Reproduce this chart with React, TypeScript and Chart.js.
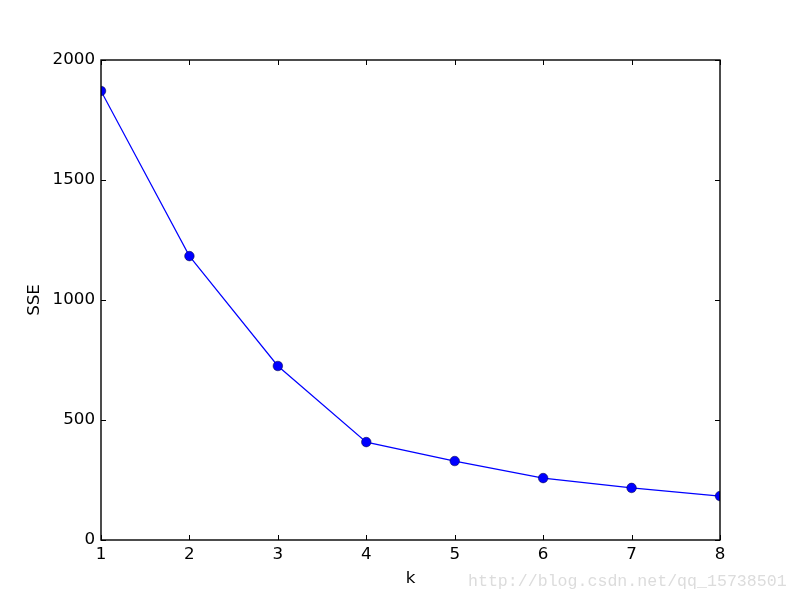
import React, { useEffect, useRef } from "react";
import { Chart, registerables } from "chart.js";

Chart.register(...registerables);

const kValues = [1, 2, 3, 4, 5, 6, 7, 8];
const sseValues = [1871, 1183, 725, 408, 329, 258, 217, 183];
const xTicks = [1, 2, 3, 4, 5, 6, 7, 8];
const yTicks = [0, 500, 1000, 1500, 2000];
const xLabel = "k";
const yLabel = "SSE";
const watermark = "http://blog.csdn.net/qq_15738501";

const FONT = "'DejaVu Sans', sans-serif";
const FS = 16.7;

const framePlugin = {
  id: "frameTicks",
  afterDatasetsDraw(chart: any) {
    const { ctx, chartArea } = chart;
    const { left, right, top, bottom } = chartArea;
    const xs = chart.scales.x;
    const ys = chart.scales.y;
    ctx.save();
    ctx.strokeStyle = "#000";
    ctx.lineWidth = 1;
    const tl = 5;
    ctx.beginPath();
    xTicks.forEach((t) => {
      const px = Math.round(xs.getPixelForValue(t)) + 0.5;
      ctx.moveTo(px, bottom);
      ctx.lineTo(px, bottom - tl);
      ctx.moveTo(px, top);
      ctx.lineTo(px, top + tl);
    });
    yTicks.forEach((t) => {
      const py = Math.round(ys.getPixelForValue(t)) + 0.5;
      ctx.moveTo(left, py);
      ctx.lineTo(left + tl, py);
      ctx.moveTo(right, py);
      ctx.lineTo(right - tl, py);
    });
    ctx.stroke();
    ctx.lineWidth = 1.4;
    ctx.strokeRect(left, top, right - left, bottom - top);
    ctx.restore();
  },
  afterDraw(chart: any) {
    const { ctx } = chart;
    ctx.save();
    ctx.fillStyle = "#dcdcdc";
    ctx.font = "16.6px 'Liberation Mono', monospace";
    ctx.textBaseline = "alphabetic";
    ctx.textAlign = "left";
    ctx.fillText(watermark, 468, 586);
    ctx.restore();
  },
};

export default function App() {
  const ref = useRef<HTMLCanvasElement | null>(null);
  useEffect(() => {
    if (!ref.current) return;
    const chart = new Chart(ref.current, {
      type: "line",
      data: {
        datasets: [
          {
            data: kValues.map((k, i) => ({ x: k, y: sseValues[i] })),
            borderColor: "#0000ff",
            backgroundColor: "#0000ff",
            borderWidth: 1.2,
            pointRadius: 4.8,
            pointBorderColor: "#000033",
            pointBorderWidth: 0.5,
            pointBackgroundColor: "#0000ff",
            tension: 0,
            clip: 0,
          } as any,
        ],
      },
      options: {
        animation: false,
        responsive: false,
        maintainAspectRatio: false,
        layout: { padding: { left: 0, top: 60, right: 80, bottom: 0 } },
        plugins: {
          legend: { display: false },
          tooltip: { enabled: false },
        },
        scales: {
          x: {
            type: "linear",
            min: 1,
            max: 8,
            afterBuildTicks: (s: any) => {
              s.ticks = xTicks.map((v) => ({ value: v }));
            },
            afterFit: (s: any) => {
              s.height = 60;
            },
            grid: { display: false, drawTicks: false },
            border: { display: false },
            ticks: {
              color: "#000",
              font: { family: FONT, size: FS },
              padding: 5,
              maxRotation: 0,
              autoSkip: false,
              callback: (v: any) => String(v),
            },
            title: {
              display: true,
              text: xLabel,
              color: "#000",
              font: { family: FONT, size: FS },
              padding: { top: 0, bottom: 11 },
            },
          },
          y: {
            type: "linear",
            min: 0,
            max: 2000,
            afterBuildTicks: (s: any) => {
              s.ticks = yTicks.map((v) => ({ value: v }));
            },
            afterFit: (s: any) => {
              s.width = 101;
            },
            grid: { display: false, drawTicks: false },
            border: { display: false },
            ticks: {
              color: "#000",
              font: { family: FONT, size: FS },
              padding: 6,
              autoSkip: false,
              callback: (v: any) => String(v),
            },
            title: {
              display: true,
              text: yLabel,
              color: "#000",
              font: { family: FONT, size: FS },
              padding: { top: 25, bottom: 0 },
            },
          },
        },
      },
      plugins: [framePlugin],
    });
    return () => chart.destroy();
  }, []);
  return (
    <div style={{ position: "fixed", left: 0, top: 0, width: 800, height: 600, background: "#fff" }}>
      <canvas ref={ref} width={800} height={600} style={{ width: 800, height: 600 }} />
    </div>
  );
}
